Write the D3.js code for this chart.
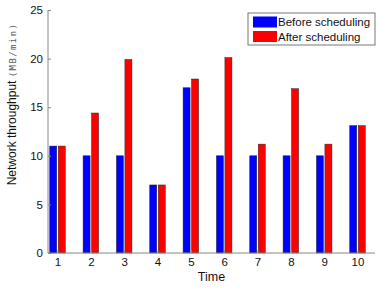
<!DOCTYPE html>
<html>
<head>
<meta charset="utf-8">
<script src="https://cdn.jsdelivr.net/npm/d3@7"></script>
<style>
  body { margin: 0; background: #fff; }
  text { font-family: Arial, "Liberation Sans", sans-serif; fill: #111; }
</style>
</head>
<body>
<svg id="chart" width="380" height="288"></svg>
<script>
// data
const times = [1, 2, 3, 4, 5, 6, 7, 8, 9, 10];
const before = [11, 10, 10, 7, 17, 10, 10, 10, 10, 13.1];
const after = [11, 14.4, 19.9, 7, 17.9, 20.1, 11.2, 16.9, 11.2, 13.1];
const yTicks = [0, 5, 10, 15, 20, 25];
const seriesNames = ['Before scheduling', 'After scheduling'];
const seriesColors = ['#0000ff', '#ff0000'];

let svg = d3.select('#chart');

let padL = 48, padR = 375, padT = 10, padB = 253;

// x tick 1 sits at 57px, tick 10 at 357px
let x = d3.scaleLinear().domain([1, 10]).range([57.5, 357.5]);
let y = d3.scaleLinear().domain([0, 25]).range([padB, padT]);

let barW = 7, gap = 1.5;

// bars
let groups = svg.append('g')
  .selectAll('g')
  .data(times)
  .enter()
  .append('g');

groups.append('rect')
  .attr('x', (d, i) => x(d) - gap / 2 - barW)
  .attr('y', (d, i) => y(before[i]))
  .attr('width', barW)
  .attr('height', (d, i) => padB - y(before[i]))
  .attr('fill', seriesColors[0])
  .attr('stroke', '#222')
  .attr('stroke-width', 0.5);

groups.append('rect')
  .attr('x', (d, i) => x(d) + gap / 2)
  .attr('y', (d, i) => y(after[i]))
  .attr('width', barW)
  .attr('height', (d, i) => padB - y(after[i]))
  .attr('fill', seriesColors[1])
  .attr('stroke', '#222')
  .attr('stroke-width', 0.5);

// axes
let yAxis = svg.append('g')
  .attr('transform', 'translate(' + padL + ',0)')
  .call(d3.axisLeft(y).tickValues(yTicks).tickSize(-3).tickPadding(5));
let xAxis = svg.append('g')
  .attr('transform', 'translate(0,' + padB + ')')
  .call(d3.axisBottom(x).tickValues(times).tickSize(-3).tickPadding(5));

[yAxis, xAxis].forEach(ax => {
  ax.select('.domain').remove();
  ax.selectAll('.tick line').attr('stroke', '#888');
  ax.selectAll('.tick text').attr('font-size', 11.5).attr('fill', '#111')
    .attr('font-family', 'Arial, "Liberation Sans", sans-serif');
});
// domain lines drawn explicitly so they span the whole frame
svg.append('line').attr('x1', padL).attr('x2', padL).attr('y1', padT).attr('y2', padB)
  .attr('stroke', '#888');
svg.append('line').attr('x1', padL).attr('x2', padR).attr('y1', padB).attr('y2', padB)
  .attr('stroke', '#888');

// axis titles
svg.append('text')
  .attr('x', (padL + padR) / 2)
  .attr('y', 281)
  .attr('text-anchor', 'middle')
  .attr('font-size', 12.5)
  .text('Time');

let yl = svg.append('text')
  .attr('transform', 'translate(16,104) rotate(-90)')
  .attr('text-anchor', 'middle');
yl.append('tspan').attr('font-size', 12).text('Network throughput ');
yl.append('tspan')
  .attr('font-size', 9)
  .attr('letter-spacing', 1.4)
  .attr('font-family', '"DejaVu Sans Mono", monospace')
  .attr('fill', '#555')
  .text('(MB/min)');

// legend
let lg = svg.append('g').attr('transform', 'translate(248,13)');
lg.append('rect')
  .attr('width', 127).attr('height', 32)
  .attr('fill', '#fff').attr('stroke', '#555').attr('stroke-width', 0.8);
seriesNames.forEach((name, i) => {
  lg.append('rect')
    .attr('x', 5).attr('y', 3.5 + i * 14.5)
    .attr('width', 24).attr('height', 11)
    .attr('fill', seriesColors[i]);
  lg.append('text')
    .attr('x', 30).attr('y', 13 + i * 14.5)
    .attr('font-size', 11.5)
    .text(name);
});
</script>
</body>
</html>
